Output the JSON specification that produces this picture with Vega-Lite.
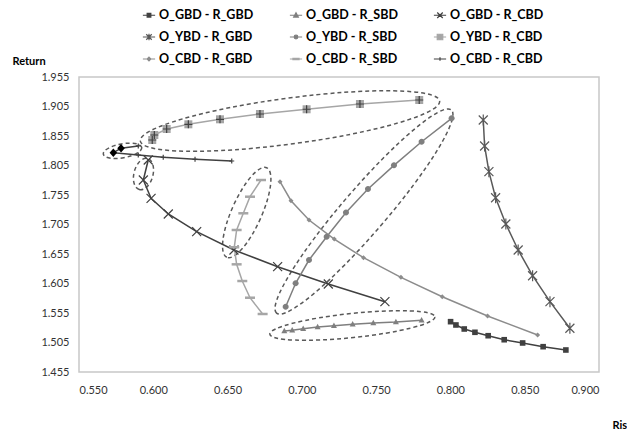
{
  "$schema": "https://vega.github.io/schema/vega-lite/v6.json",
  "width": 520,
  "height": 295,
  "autosize": {"type": "none"},
  "padding": {"left": 79, "top": 77, "right": 28, "bottom": 60},
  "background": "white",
  "config": {
    "font": "Lato",
    "view": {"stroke": "#c8c8c8", "strokeWidth": 1.5},
    "axis": {"grid": false, "ticks": false, "domain": false, "labelFont": "Lato", "labelFontSize": 11, "labelColor": "#333333", "titleFont": "Lato", "titleFontWeight": "bold", "titleFontSize": 11, "titleColor": "#000000"}
  },
  "datasets": {
    "series": [
      {"s": "O_GBD - R_GBD", "i": 1, "risk": 0.8001, "ret": 1.5403},
      {"s": "O_GBD - R_GBD", "i": 2, "risk": 0.8037, "ret": 1.5347},
      {"s": "O_GBD - R_GBD", "i": 3, "risk": 0.8093, "ret": 1.5279},
      {"s": "O_GBD - R_GBD", "i": 4, "risk": 0.8165, "ret": 1.5223},
      {"s": "O_GBD - R_GBD", "i": 5, "risk": 0.8254, "ret": 1.5165},
      {"s": "O_GBD - R_GBD", "i": 6, "risk": 0.8362, "ret": 1.5097},
      {"s": "O_GBD - R_GBD", "i": 7, "risk": 0.8486, "ret": 1.5042},
      {"s": "O_GBD - R_GBD", "i": 8, "risk": 0.8624, "ret": 1.4979},
      {"s": "O_GBD - R_GBD", "i": 9, "risk": 0.8777, "ret": 1.4923},
      {"s": "O_GBD - R_SBD", "i": 1, "risk": 0.6882, "ret": 1.5245},
      {"s": "O_GBD - R_SBD", "i": 2, "risk": 0.6935, "ret": 1.5257},
      {"s": "O_GBD - R_SBD", "i": 3, "risk": 0.7009, "ret": 1.5284},
      {"s": "O_GBD - R_SBD", "i": 4, "risk": 0.7106, "ret": 1.5313},
      {"s": "O_GBD - R_SBD", "i": 5, "risk": 0.7216, "ret": 1.5335},
      {"s": "O_GBD - R_SBD", "i": 6, "risk": 0.7342, "ret": 1.5358},
      {"s": "O_GBD - R_SBD", "i": 7, "risk": 0.7481, "ret": 1.5381},
      {"s": "O_GBD - R_SBD", "i": 8, "risk": 0.7633, "ret": 1.5397},
      {"s": "O_GBD - R_SBD", "i": 9, "risk": 0.7806, "ret": 1.5426},
      {"s": "O_GBD - R_CBD", "i": 1, "risk": 0.5966, "ret": 1.8143},
      {"s": "O_GBD - R_CBD", "i": 2, "risk": 0.5933, "ret": 1.7804},
      {"s": "O_GBD - R_CBD", "i": 3, "risk": 0.5985, "ret": 1.7494},
      {"s": "O_GBD - R_CBD", "i": 4, "risk": 0.6101, "ret": 1.7228},
      {"s": "O_GBD - R_CBD", "i": 5, "risk": 0.6292, "ret": 1.6928},
      {"s": "O_GBD - R_CBD", "i": 6, "risk": 0.6543, "ret": 1.6618},
      {"s": "O_GBD - R_CBD", "i": 7, "risk": 0.6837, "ret": 1.6335},
      {"s": "O_GBD - R_CBD", "i": 8, "risk": 0.7178, "ret": 1.6042},
      {"s": "O_GBD - R_CBD", "i": 9, "risk": 0.7559, "ret": 1.5742},
      {"s": "O_YBD - R_GBD", "i": 1, "risk": 0.8221, "ret": 1.8821},
      {"s": "O_YBD - R_GBD", "i": 2, "risk": 0.8230, "ret": 1.8381},
      {"s": "O_YBD - R_GBD", "i": 3, "risk": 0.8259, "ret": 1.7945},
      {"s": "O_YBD - R_GBD", "i": 4, "risk": 0.8304, "ret": 1.7504},
      {"s": "O_YBD - R_GBD", "i": 5, "risk": 0.8373, "ret": 1.7058},
      {"s": "O_YBD - R_GBD", "i": 6, "risk": 0.8456, "ret": 1.6618},
      {"s": "O_YBD - R_GBD", "i": 7, "risk": 0.8553, "ret": 1.6182},
      {"s": "O_YBD - R_GBD", "i": 8, "risk": 0.8670, "ret": 1.5742},
      {"s": "O_YBD - R_GBD", "i": 9, "risk": 0.8804, "ret": 1.5291},
      {"s": "O_YBD - R_SBD", "i": 1, "risk": 0.8008, "ret": 1.8850},
      {"s": "O_YBD - R_SBD", "i": 2, "risk": 0.7806, "ret": 1.8453},
      {"s": "O_YBD - R_SBD", "i": 3, "risk": 0.7620, "ret": 1.8053},
      {"s": "O_YBD - R_SBD", "i": 4, "risk": 0.7445, "ret": 1.7652},
      {"s": "O_YBD - R_SBD", "i": 5, "risk": 0.7297, "ret": 1.7253},
      {"s": "O_YBD - R_SBD", "i": 6, "risk": 0.7167, "ret": 1.6843},
      {"s": "O_YBD - R_SBD", "i": 7, "risk": 0.7048, "ret": 1.6448},
      {"s": "O_YBD - R_SBD", "i": 8, "risk": 0.6958, "ret": 1.6053},
      {"s": "O_YBD - R_SBD", "i": 9, "risk": 0.6891, "ret": 1.5657},
      {"s": "O_YBD - R_CBD", "i": 1, "risk": 0.5993, "ret": 1.8482},
      {"s": "O_YBD - R_CBD", "i": 2, "risk": 0.6007, "ret": 1.8567},
      {"s": "O_YBD - R_CBD", "i": 3, "risk": 0.6090, "ret": 1.8669},
      {"s": "O_YBD - R_CBD", "i": 4, "risk": 0.6236, "ret": 1.8748},
      {"s": "O_YBD - R_CBD", "i": 5, "risk": 0.6449, "ret": 1.8833},
      {"s": "O_YBD - R_CBD", "i": 6, "risk": 0.6718, "ret": 1.8923},
      {"s": "O_YBD - R_CBD", "i": 7, "risk": 0.7032, "ret": 1.9003},
      {"s": "O_YBD - R_CBD", "i": 8, "risk": 0.7391, "ret": 1.9092},
      {"s": "O_YBD - R_CBD", "i": 9, "risk": 0.7790, "ret": 1.9160},
      {"s": "O_CBD - R_GBD", "i": 1, "risk": 0.6853, "ret": 1.7775},
      {"s": "O_CBD - R_GBD", "i": 2, "risk": 0.6927, "ret": 1.7453},
      {"s": "O_CBD - R_GBD", "i": 3, "risk": 0.7048, "ret": 1.7126},
      {"s": "O_CBD - R_GBD", "i": 4, "risk": 0.7218, "ret": 1.6804},
      {"s": "O_CBD - R_GBD", "i": 5, "risk": 0.7415, "ret": 1.6487},
      {"s": "O_CBD - R_GBD", "i": 6, "risk": 0.7667, "ret": 1.6155},
      {"s": "O_CBD - R_GBD", "i": 7, "risk": 0.7945, "ret": 1.5826},
      {"s": "O_CBD - R_GBD", "i": 8, "risk": 0.8250, "ret": 1.5499},
      {"s": "O_CBD - R_GBD", "i": 9, "risk": 0.8587, "ret": 1.5177},
      {"s": "O_CBD - R_SBD", "i": 1, "risk": 0.6725, "ret": 1.7804},
      {"s": "O_CBD - R_SBD", "i": 2, "risk": 0.6651, "ret": 1.7521},
      {"s": "O_CBD - R_SBD", "i": 3, "risk": 0.6606, "ret": 1.7240},
      {"s": "O_CBD - R_SBD", "i": 4, "risk": 0.6561, "ret": 1.6957},
      {"s": "O_CBD - R_SBD", "i": 5, "risk": 0.6545, "ret": 1.6664},
      {"s": "O_CBD - R_SBD", "i": 6, "risk": 0.6561, "ret": 1.6375},
      {"s": "O_CBD - R_SBD", "i": 7, "risk": 0.6599, "ret": 1.6092},
      {"s": "O_CBD - R_SBD", "i": 8, "risk": 0.6651, "ret": 1.5809},
      {"s": "O_CBD - R_SBD", "i": 9, "risk": 0.6736, "ret": 1.5533},
      {"s": "O_CBD - R_CBD", "i": 1, "risk": 0.5899, "ret": 1.8381},
      {"s": "O_CBD - R_CBD", "i": 2, "risk": 0.5783, "ret": 1.8342},
      {"s": "O_CBD - R_CBD", "i": 3, "risk": 0.5731, "ret": 1.8267},
      {"s": "O_CBD - R_CBD", "i": 4, "risk": 0.5899, "ret": 1.8228},
      {"s": "O_CBD - R_CBD", "i": 5, "risk": 0.6067, "ret": 1.8189},
      {"s": "O_CBD - R_CBD", "i": 6, "risk": 0.6281, "ret": 1.8155},
      {"s": "O_CBD - R_CBD", "i": 7, "risk": 0.6528, "ret": 1.8126}
    ],
    "highlight": [
      {"risk": 0.5731, "ret": 1.8267},
      {"risk": 0.5783, "ret": 1.8342}
    ],
    "ellipses": [
      {"id": "E1", "risk": 0.5793, "ret": 1.8299},
      {"id": "E2", "risk": 0.6920, "ret": 1.8804},
      {"id": "E3", "risk": 0.5934, "ret": 1.7906},
      {"id": "E4", "risk": 0.6629, "ret": 1.7253},
      {"id": "E5", "risk": 0.7418, "ret": 1.7270},
      {"id": "E6", "risk": 0.7340, "ret": 1.5338}
    ]
  },
  "encoding": {
    "x": {"field": "risk", "type": "quantitative", "scale": {"domain": [0.55, 0.9], "zero": false, "nice": false},
      "axis": {"values": [0.55, 0.6, 0.65, 0.7, 0.75, 0.8, 0.85, 0.9], "format": ".3f", "labelPadding": 12, "title": "Risk", "titleAngle": 0, "titleAlign": "left", "titleBaseline": "middle", "titleX": 533, "titleY": 53}},
    "y": {"field": "ret", "type": "quantitative", "scale": {"domain": [1.455, 1.955], "zero": false, "nice": false},
      "axis": {"values": [1.455, 1.505, 1.555, 1.605, 1.655, 1.705, 1.755, 1.805, 1.855, 1.905, 1.955], "format": ".3f", "labelPadding": 10, "title": "Return", "titleAngle": 0, "titleAlign": "left", "titleBaseline": "middle", "titleX": -67, "titleY": -16}}
  },
  "layer": [
    {
      "data": {"name": "ellipses"},
      "transform": [{"filter": "datum.id == 'E1'"}],
      "mark": {"type": "point", "filled": false, "opacity": 1, "stroke": "#595959", "strokeWidth": 1.5, "strokeDash": [4, 3], "size": 1521, "angle": -10,
        "shape": "M 1 0 C 1 0.198 0.5523 0.359 0 0.359 C -0.5523 0.359 -1 0.198 -1 0 C -1 -0.198 -0.5523 -0.359 0 -0.359 C 0.5523 -0.359 1 -0.198 1 0 Z"}
    },
    {
      "data": {"name": "ellipses"},
      "transform": [{"filter": "datum.id == 'E2'"}],
      "mark": {"type": "point", "filled": false, "opacity": 1, "stroke": "#595959", "strokeWidth": 1.5, "strokeDash": [4, 3], "size": 91204, "angle": -7.6,
        "shape": "M 1 0 C 1 0.084 0.5523 0.152 0 0.152 C -0.5523 0.152 -1 0.084 -1 0 C -1 -0.084 -0.5523 -0.152 0 -0.152 C 0.5523 -0.152 1 -0.084 1 0 Z"}
    },
    {
      "data": {"name": "ellipses"},
      "transform": [{"filter": "datum.id == 'E3'"}],
      "mark": {"type": "point", "filled": false, "opacity": 1, "stroke": "#595959", "strokeWidth": 1.5, "strokeDash": [4, 3], "size": 1024, "angle": 105,
        "shape": "M 1 0 C 1 0.328 0.5523 0.594 0 0.594 C -0.5523 0.594 -1 0.328 -1 0 C -1 -0.328 -0.5523 -0.594 0 -0.594 C 0.5523 -0.594 1 -0.328 1 0 Z"}
    },
    {
      "data": {"name": "ellipses"},
      "transform": [{"filter": "datum.id == 'E4'"}],
      "mark": {"type": "point", "filled": false, "opacity": 1, "stroke": "#595959", "strokeWidth": 1.5, "strokeDash": [4, 3], "size": 9604, "angle": 114,
        "shape": "M 1 0 C 1 0.169 0.5523 0.306 0 0.306 C -0.5523 0.306 -1 0.169 -1 0 C -1 -0.169 -0.5523 -0.306 0 -0.306 C 0.5523 -0.306 1 -0.169 1 0 Z"}
    },
    {
      "data": {"name": "ellipses"},
      "transform": [{"filter": "datum.id == 'E5'"}],
      "mark": {"type": "point", "filled": false, "opacity": 1, "stroke": "#595959", "strokeWidth": 1.5, "strokeDash": [4, 3], "size": 71824, "angle": 130.7,
        "shape": "M 1 0 C 1 0.091 0.5523 0.164 0 0.164 C -0.5523 0.164 -1 0.091 -1 0 C -1 -0.091 -0.5523 -0.164 0 -0.164 C 0.5523 -0.164 1 -0.091 1 0 Z"}
    },
    {
      "data": {"name": "ellipses"},
      "transform": [{"filter": "datum.id == 'E6'"}],
      "mark": {"type": "point", "filled": false, "opacity": 1, "stroke": "#595959", "strokeWidth": 1.5, "strokeDash": [4, 3], "size": 27556, "angle": -6,
        "shape": "M 1 0 C 1 0.080 0.5523 0.145 0 0.145 C -0.5523 0.145 -1 0.080 -1 0 C -1 -0.080 -0.5523 -0.145 0 -0.145 C 0.5523 -0.145 1 -0.080 1 0 Z"}
    },
    {
      "data": {"name": "series"},
      "mark": {"type": "line", "strokeWidth": 1.5},
      "encoding": {
        "order": {"field": "i", "type": "quantitative"},
        "color": {"field": "s", "type": "nominal",
          "scale": {"domain": ["O_GBD - R_GBD", "O_GBD - R_SBD", "O_GBD - R_CBD", "O_YBD - R_GBD", "O_YBD - R_SBD", "O_YBD - R_CBD", "O_CBD - R_GBD", "O_CBD - R_SBD", "O_CBD - R_CBD"],
            "range": ["#404040", "#7f7f7f", "#404040", "#595959", "#7f7f7f", "#a6a6a6", "#8c8c8c", "#a6a6a6", "#404040"]},
          "legend": {
            "orient": "none", "legendX": 63, "legendY": -69, "columns": 3, "direction": "horizontal", "title": null,
            "labelFont": "Lato", "labelFontSize": 12.5, "labelFontWeight": "bold", "labelColor": "#000000",
            "symbolSize": 150, "labelOffset": 3, "columnPadding": 33, "rowPadding": 8,
            "encode": {"symbols": {"update": {
              "shape": {"signal": "{'O_GBD - R_GBD': 'M -1 0 L 1 0 M -0.3 -0.3 L 0.3 -0.3 L 0.3 0.3 L -0.3 0.3 Z', 'O_GBD - R_SBD': 'M -1 0 L 1 0 M 0 -0.4 L 0.38 0.3 L -0.38 0.3 Z', 'O_GBD - R_CBD': 'M -1 0 L 1 0 M -0.45 -0.45 L 0.45 0.45 M -0.45 0.45 L 0.45 -0.45', 'O_YBD - R_GBD': 'M -1 0 L 1 0 M -0.45 -0.45 L 0.45 0.45 M -0.45 0.45 L 0.45 -0.45 M 0 -0.55 L 0 0.55', 'O_YBD - R_SBD': 'M -1 0 L 1 0 M 0.3 0 C 0.3 0.166 0.166 0.3 0 0.3 C -0.166 0.3 -0.3 0.166 -0.3 0 C -0.3 -0.166 -0.166 -0.3 0 -0.3 C 0.166 -0.3 0.3 -0.166 0.3 0 Z', 'O_YBD - R_CBD': 'M -1 0 L 1 0 M -0.45 -0.45 L 0.45 -0.45 L 0.45 0.45 L -0.45 0.45 Z M -0.45 0 L 0.45 0 M 0 -0.45 L 0 0.45', 'O_CBD - R_GBD': 'M -1 0 L 1 0 M 0 -0.3 L 0.3 0 L 0 0.3 L -0.3 0 Z', 'O_CBD - R_SBD': 'M -1 0 L 1 0 M -0.5 -0.12 L 0.5 -0.12 L 0.5 0.12 L -0.5 0.12 Z', 'O_CBD - R_CBD': 'M -1 0 L 1 0 M -0.3 0 L 0.3 0 M 0 -0.3 L 0 0.3'}[datum.value]"},
              "fill": {"signal": "scale('color', datum.value)"},
              "stroke": {"signal": "datum.value == 'O_YBD - R_CBD' ? '#595959' : scale('color', datum.value)"},
              "strokeWidth": {"value": 1.2},
              "opacity": {"value": 1}
            }}}
          }
        }
      }
    },
    {
      "data": {"name": "series"},
      "transform": [{"filter": "datum.s == 'O_GBD - R_GBD'"}],
      "mark": {"type": "point", "filled": true, "opacity": 1, "size": 100, "shape": "M -0.56 -0.56 L 0.56 -0.56 L 0.56 0.56 L -0.56 0.56 Z"},
      "encoding": {"color": {"field": "s", "type": "nominal", "legend": null}}
    },
    {
      "data": {"name": "series"},
      "transform": [{"filter": "datum.s == 'O_GBD - R_SBD'"}],
      "mark": {"type": "point", "filled": true, "opacity": 1, "size": 100, "shape": "M 0 -0.65 L 0.6 0.45 L -0.6 0.45 Z"},
      "encoding": {"color": {"field": "s", "type": "nominal", "legend": null}}
    },
    {
      "data": {"name": "series"},
      "transform": [{"filter": "datum.s == 'O_GBD - R_CBD'"}],
      "mark": {"type": "point", "filled": false, "opacity": 1, "size": 100, "strokeWidth": 1.2, "shape": "M -0.9 -0.9 L 0.9 0.9 M -0.9 0.9 L 0.9 -0.9"},
      "encoding": {"color": {"field": "s", "type": "nominal", "legend": null}}
    },
    {
      "data": {"name": "series"},
      "transform": [{"filter": "datum.s == 'O_YBD - R_GBD'"}],
      "mark": {"type": "point", "filled": false, "opacity": 1, "size": 100, "strokeWidth": 1.2, "shape": "M -0.9 -0.9 L 0.9 0.9 M -0.9 0.9 L 0.9 -0.9 M 0 -1.1 L 0 1.1"},
      "encoding": {"color": {"field": "s", "type": "nominal", "legend": null}}
    },
    {
      "data": {"name": "series"},
      "transform": [{"filter": "datum.s == 'O_YBD - R_SBD'"}],
      "mark": {"type": "point", "filled": true, "opacity": 1, "size": 100, "shape": "M 0.6 0 C 0.6 0.331 0.331 0.6 0 0.6 C -0.331 0.6 -0.6 0.331 -0.6 0 C -0.6 -0.331 -0.331 -0.6 0 -0.6 C 0.331 -0.6 0.6 -0.331 0.6 0 Z"},
      "encoding": {"color": {"field": "s", "type": "nominal", "legend": null}}
    },
    {
      "data": {"name": "series"},
      "transform": [{"filter": "datum.s == 'O_YBD - R_CBD'"}],
      "mark": {"type": "point", "filled": true, "opacity": 1, "size": 100, "shape": "M -0.8 -0.8 L 0.8 -0.8 L 0.8 0.8 L -0.8 0.8 Z"},
      "encoding": {"color": {"field": "s", "type": "nominal", "legend": null}}
    },
    {
      "data": {"name": "series"},
      "transform": [{"filter": "datum.s == 'O_YBD - R_CBD'"}],
      "mark": {"type": "point", "filled": false, "opacity": 1, "size": 100, "strokeWidth": 1.2, "stroke": "#404040", "shape": "M -0.8 0 L 0.8 0 M 0 -0.8 L 0 0.8"}
    },
    {
      "data": {"name": "series"},
      "transform": [{"filter": "datum.s == 'O_CBD - R_GBD'"}],
      "mark": {"type": "point", "filled": true, "opacity": 1, "size": 100, "shape": "M 0 -0.5 L 0.5 0 L 0 0.5 L -0.5 0 Z"},
      "encoding": {"color": {"field": "s", "type": "nominal", "legend": null}}
    },
    {
      "data": {"name": "series"},
      "transform": [{"filter": "datum.s == 'O_CBD - R_SBD'"}],
      "mark": {"type": "point", "filled": true, "opacity": 1, "size": 100, "shape": "M -1 -0.25 L 1 -0.25 L 1 0.25 L -1 0.25 Z"},
      "encoding": {"color": {"field": "s", "type": "nominal", "legend": null}}
    },
    {
      "data": {"name": "series"},
      "transform": [{"filter": "datum.s == 'O_CBD - R_CBD'"}],
      "mark": {"type": "point", "filled": false, "opacity": 1, "size": 100, "strokeWidth": 1.2, "shape": "M -0.5 0 L 0.5 0 M 0 -0.5 L 0 0.5"},
      "encoding": {"color": {"field": "s", "type": "nominal", "legend": null}}
    },
    {
      "data": {"name": "highlight"},
      "mark": {"type": "point", "filled": true, "opacity": 1, "size": 100, "color": "#000000",
        "shape": "M 0 -0.85 L 0.75 0 L 0 0.85 L -0.75 0 Z"}
    }
  ]
}
